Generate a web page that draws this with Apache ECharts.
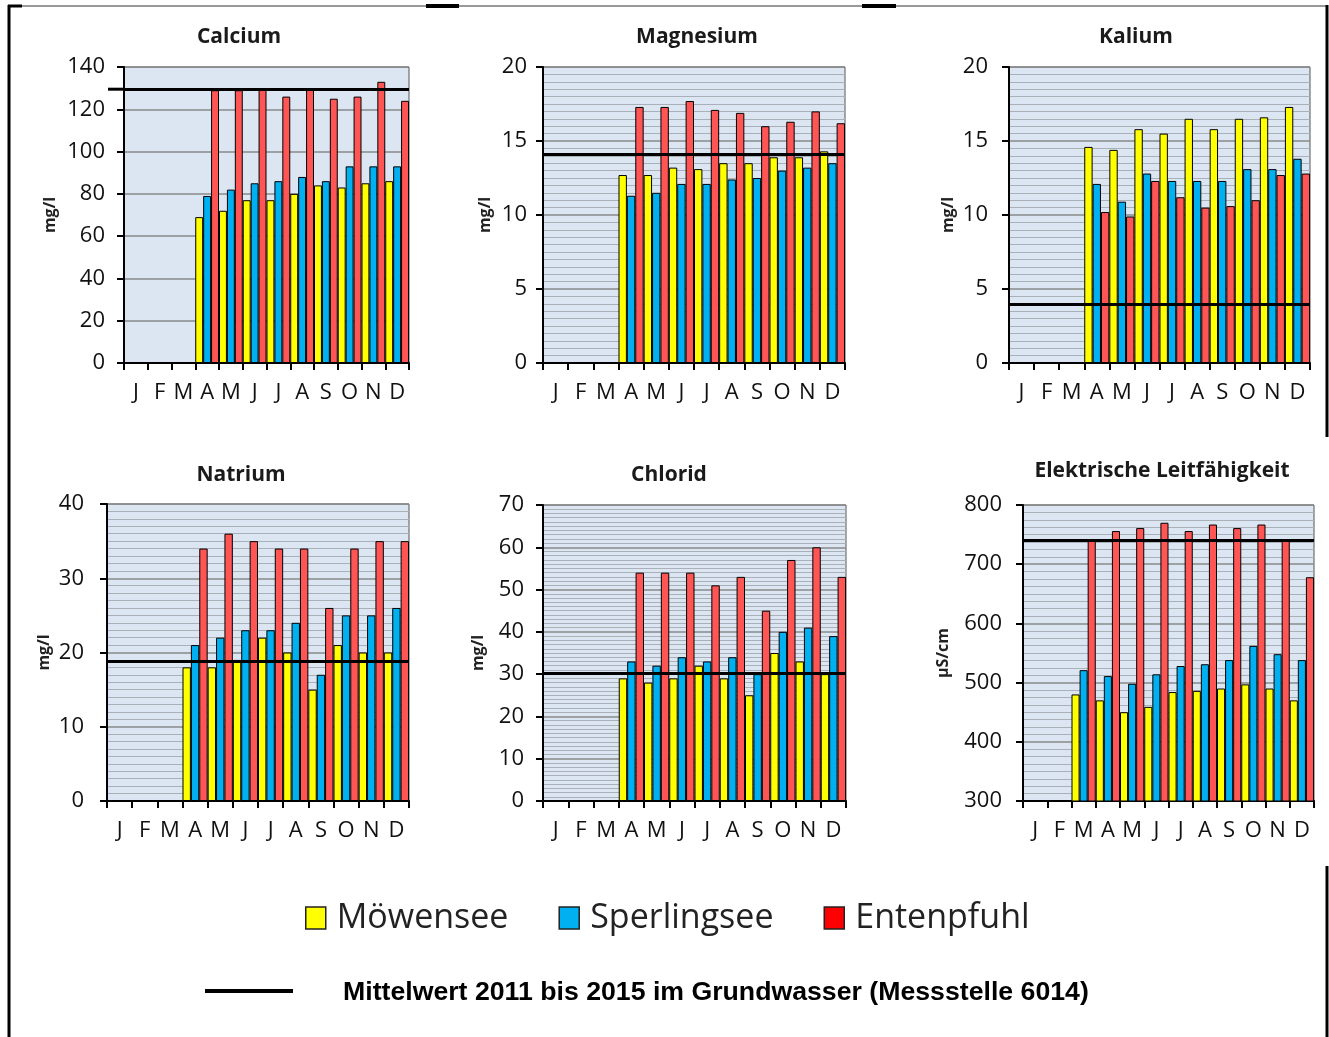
<!DOCTYPE html>
<html><head><meta charset="utf-8">
<script src="https://cdn.jsdelivr.net/npm/echarts@6/dist/echarts.min.js"></script>
<style>html,body{margin:0;padding:0;background:#fff}#c{width:1329px;height:1037px}</style>
</head><body><div id="c"></div>
<script>
// ---- data ----
const months = ['J','F','M','A','M','J','J','A','S','O','N','D'];
const seriesNames = ['Möwensee','Sperlingsee','Entenpfuhl'];
const panelTitles = ['Calcium','Magnesium','Kalium','Natrium','Chlorid','Elektrische Leitfähigkeit'];
const unitNames = ['mg/l','mg/l','mg/l','mg/l','mg/l','µS/cm'];

const moewCa = [null,null,null,69,72,77,77,80,84,83,85,86];
const sperCa = [null,null,null,79,82,85,86,88,86,93,93,93];
const entCa  = [null,null,null,129,129,130,126,130,125,126,133,124];
const meanCa = 129.5;

const moewMg = [null,null,null,12.7,12.7,13.2,13.1,13.5,13.5,13.9,13.9,14.3];
const sperMg = [null,null,null,11.3,11.5,12.1,12.1,12.4,12.5,13.0,13.2,13.5];
const entMg  = [null,null,null,17.3,17.3,17.7,17.1,16.9,16.0,16.3,17.0,16.2];
const meanMg = 14.1;

const moewK = [null,null,null,14.6,14.4,15.8,15.5,16.5,15.8,16.5,16.6,17.3];
const sperK = [null,null,null,12.1,10.9,12.8,12.3,12.3,12.3,13.1,13.1,13.8];
const entK  = [null,null,null,10.2,9.9,12.3,11.2,10.5,10.6,11.0,12.7,12.8];
const meanK = 3.95;

const moewNa = [null,null,null,18,18,19,22,20,15,21,20,20];
const sperNa = [null,null,null,21,22,23,23,24,17,25,25,26];
const entNa  = [null,null,null,34,36,35,34,34,26,34,35,35];
const meanNa = 18.8;

const moewCl = [null,null,null,29,28,29,32,29,25,35,33,30];
const sperCl = [null,null,null,33,32,34,33,34,30,40,41,39];
const entCl  = [null,null,null,54,54,54,51,53,45,57,60,53];
const meanCl = 30.2;

const moewLf = [null,null,480,470,450,459,484,486,490,497,490,470];
const sperLf = [null,null,521,511,498,514,528,531,538,562,548,538];
const entLf  = [null,null,740,756,761,770,756,767,761,767,740,678];
const meanLf = 740;

const yMin = [0,0,0,0,0,300];
const yMax = [140,20,20,40,70,800];
const yInterval = [20,5,5,10,10,100];
const yMinorSplit = [0,10,10,10,10,8];

const panelData = [
  [moewCa,sperCa,entCa,meanCa],
  [moewMg,sperMg,entMg,meanMg],
  [moewK,sperK,entK,meanK],
  [moewNa,sperNa,entNa,meanNa],
  [moewCl,sperCl,entCl,meanCl],
  [moewLf,sperLf,entLf,meanLf]
];
const meanLabel = 'Mittelwert 2011 bis 2015 im Grundwasser (Messstelle 6014)';

// ---- layout / style ----
const gridBoxes = [
  {left:124, top:67, width:285, height:296},
  {left:543, top:67, width:302, height:296},
  {left:1009, top:67, width:301, height:296},
  {left:107, top:504, width:302, height:297},
  {left:543, top:505, width:303, height:296},
  {left:1023, top:505, width:291, height:296}
];
const titlePos = [[239,37],[697,37],[1136,37],[241,475],[669,475],[1162,471]];
const nameGaps = [66,50,53,55,57,72];
const labelMargins = [19,16,21,23,19,21];
const barColors = ['#ffff00','#00b0f0','#ff5555'];
const legendColors = ['#ffff00','#00b0f0','#ff0000'];
const FONT = "'Open Sans', 'Noto Sans', sans-serif";

const chart = echarts.init(document.getElementById('c'), null, {renderer:'canvas'});

const grid = gridBoxes.map(g => Object.assign({show:true, backgroundColor:'#dce6f2', borderColor:'#555', borderWidth:1}, g));
const xAxis = gridBoxes.map((g,i) => ({
  type:'category', gridIndex:i, data:months,
  axisLine:{show:true, lineStyle:{color:'#000', width:2}},
  axisTick:{show:true, length:7, lineStyle:{color:'#000', width:2}},
  axisLabel:{interval:0, margin:19, fontFamily:FONT, fontSize:22, color:'#111'},
  splitLine:{show:false}
}));
const yAxis = gridBoxes.map((g,i) => ({
  type:'value', gridIndex:i, min:yMin[i], max:yMax[i], interval:yInterval[i],
  name:unitNames[i], nameLocation:'middle', nameGap:nameGaps[i],
  nameTextStyle:{fontFamily:FONT, fontSize:16, fontWeight:'bold', color:'#222'},
  axisLine:{show:true, lineStyle:{color:'#000', width:2}},
  axisTick:{show:true, length:7, lineStyle:{color:'#000', width:2}},
  axisLabel:{margin:labelMargins[i], fontFamily:FONT, fontSize:22, color:'#111'},
  splitLine:{show:true, lineStyle:{color:'#8a8a8a', width:1.5}},
  minorTick:{show:false, splitNumber: yMinorSplit[i] || 5},
  minorSplitLine:{show: yMinorSplit[i] > 0, lineStyle:{color:'#aab0b8', width:1}}
}));

const series = [];
panelData.forEach((pd, i) => {
  for (let s = 0; s < 3; s++) {
    const ser = {
      type:'bar', name:seriesNames[s], xAxisIndex:i, yAxisIndex:i, data:pd[s],
      barGap:'0%', barCategoryGap:'0%',
      itemStyle:{color:barColors[s], borderColor:'#000', borderWidth:1},
      animation:false
    };
    if (s === 2) {
      ser.markLine = {
        silent:true, symbol:['none','none'], animation:false,
        label:{show:false},
        lineStyle:{color:'#000', width:3, type:'solid'},
        data:[{yAxis: pd[3]}]
      };
    }
    series.push(ser);
  }
});

const graphic = [];
panelTitles.forEach((t,i) => {
  graphic.push({type:'text', x:titlePos[i][0], y:titlePos[i][1],
    style:{text:t, font:"bold 21px "+FONT, fill:'#1a1a1a', textAlign:'center', textVerticalAlign:'middle'}});
});
// outer frame
const frame = [
  [8,6,1326,6,'#777',1.5],
  [9,5,9,1037,'#000',3],
  [8,6,22,6,'#000',3],
  [426,6,459,6,'#000',4],
  [862,6,896,6,'#000',4],
  [1327,5,1327,437,'#000',3],
  [1327,866,1327,1037,'#000',3]
];
frame.forEach(f => graphic.push({type:'line', shape:{x1:f[0],y1:f[1],x2:f[2],y2:f[3]}, style:{stroke:f[4], lineWidth:f[5]}}));
// mean line legend
graphic.push({type:'line', shape:{x1:205,y1:991,x2:293,y2:991}, style:{stroke:'#000', lineWidth:4}});
graphic.push({type:'text', x:343, y:993, scaleX:1.067, style:{text:meanLabel, font:"bold 25px 'Liberation Sans', Arial, sans-serif", fill:'#000', textVerticalAlign:'middle'}});

chart.setOption({
  backgroundColor:'#fff',
  animation:false,
  grid, xAxis, yAxis, series, graphic,
  legend:{
    left:300, top:896, itemWidth:20, itemHeight:22, itemGap:50, icon:'rect',
    textStyle:{fontFamily:FONT, fontSize:34, color:'#222', padding:[0,0,0,6]},
    data: seriesNames.map((n,k) => ({name:n, icon:'rect', itemStyle:{color:legendColors[k], borderColor:'#222', borderWidth:1.5}}))
  }
});

// Calcium mean line extends a bit to the left of the axis
const yPix = chart.convertToPixel({yAxisIndex:0}, meanCa);
graphic.push({type:'line', shape:{x1:108, y1:yPix, x2:gridBoxes[0].left, y2:yPix}, style:{stroke:'#000', lineWidth:3}});
chart.setOption({graphic});
</script></body></html>
